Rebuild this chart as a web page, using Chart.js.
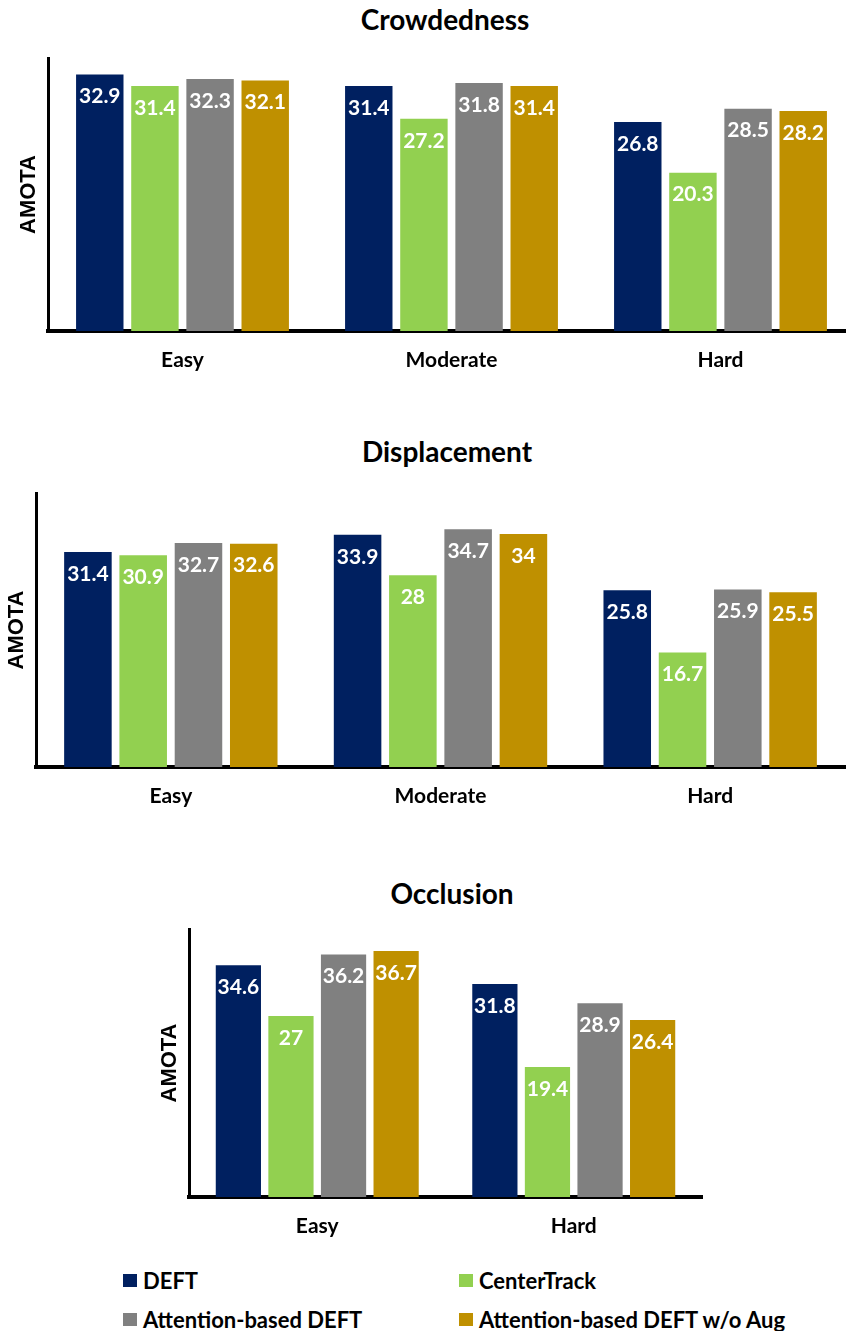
<!DOCTYPE html>
<html>
<head>
<meta charset="utf-8">
<script src="https://cdn.jsdelivr.net/npm/chart.js@4.4.0/dist/chart.umd.min.js"></script>
<style>
  html, body { margin: 0; padding: 0; background: #fff; overflow: hidden; }
  body { width: 846px; height: 1331px; position: relative; }
  canvas { position: absolute; left: 0; }
  .ttl { position: absolute; width: 400px; text-align: center; font: bold 28px Lato, sans-serif; line-height: 32px; color: #000; }
  .leg { position: absolute; height: 24px; display: flex; align-items: center; font: bold 22px Lato, sans-serif; color: #000; white-space: nowrap; }
  .leg span.sq { display: inline-block; width: 14px; height: 13px; margin-right: 6px; }
</style>
</head>
<body>
<div class="ttl" style="left:245px; top:3px;">Crowdedness</div>
<div class="ttl" style="left:247px; top:435px;">Displacement</div>
<div class="ttl" style="left:252px; top:877px;">Occlusion</div>
<canvas id="crowd" width="860" height="381" style="top:0px;"></canvas>
<canvas id="disp" width="860" height="377" style="top:440px;"></canvas>
<canvas id="occ" width="860" height="367" style="top:880px;"></canvas>
<div id="legend"></div>
<script>
var seriesNames = ['DEFT', 'CenterTrack', 'Attention-based DEFT', 'Attention-based DEFT w/o Aug'];
var seriesColors = ['#002060', '#92D050', '#808080', '#BF9000'];

// Crowdedness
var crowdLabels = ['Easy', 'Moderate', 'Hard'];
var crowdDEFT = [32.9, 31.4, 26.8];
var crowdCenter = [31.4, 27.2, 20.3];
var crowdAttn = [32.3, 31.8, 28.5];
var crowdAttnNoAug = [32.1, 31.4, 28.2];

// Displacement
var dispLabels = ['Easy', 'Moderate', 'Hard'];
var dispDEFT = [31.4, 33.9, 25.8];
var dispCenter = [30.9, 28, 16.7];
var dispAttn = [32.7, 34.7, 25.9];
var dispAttnNoAug = [32.6, 34, 25.5];

// Occlusion
var occLabels = ['Easy', 'Hard'];
var occDEFT = [34.6, 31.8];
var occCenter = [27, 19.4];
var occAttn = [36.2, 28.9];
var occAttnNoAug = [36.7, 26.4];

// white numbers inside the top of each bar
var valueLabels = {
    id: 'valueLabels',
    afterDatasetsDraw: function (chart) {
        var ctx = chart.ctx;
        ctx.save();
        ctx.font = 'bold 21px Lato';
        ctx.fillStyle = '#fff';
        ctx.textAlign = 'center';
        ctx.textBaseline = 'middle';
        chart.data.datasets.forEach(function (ds, i) {
            chart.getDatasetMeta(i).data.forEach(function (bar, j) {
                ctx.fillText(String(ds.data[j]), bar.x, bar.y + 22);
            });
        });
        ctx.restore();
    }
};

function makeChart(id, labels, series, yMax, pad) {
    var ctx = document.getElementById(id).getContext('2d');
    return new Chart(ctx, {
        type: 'bar',
        data: {
            labels: labels,
            datasets: series.map(function (d, i) {
                return {
                    label: seriesNames[i],
                    data: d,
                    backgroundColor: seriesColors[i],
                    borderWidth: 0,
                    categoryPercentage: 0.82,
                    barPercentage: 0.86
                };
            })
        },
        options: {
            responsive: false,
            animation: false,
            layout: { padding: { top: pad.top, left: pad.left, right: pad.right, bottom: 0 } },
            plugins: { legend: { display: false }, tooltip: { enabled: false }, title: { display: false } },
            scales: {
                x: {
                    grid: { display: false, drawTicks: false },
                    border: { display: true, color: '#000', width: 4 },
                    ticks: { color: '#000', font: { family: 'Lato', weight: 'bold', size: 21 }, padding: 17 },
                    afterFit: function (s) { s.height = 50; }
                },
                y: {
                    min: 0,
                    max: yMax,
                    grid: { display: false, drawTicks: false },
                    border: { display: true, color: '#000', width: 3 },
                    ticks: { display: false },
                    title: {
                        display: true,
                        text: 'AMOTA',
                        color: '#000',
                        font: { family: 'Liberation Sans', weight: 'bold', size: 22 },
                        padding: { top: 2, bottom: 0 }
                    },
                    afterFit: function (s) { s.width = 34; }
                }
            }
        },
        plugins: [valueLabels]
    });
}

makeChart('crowd', crowdLabels, [crowdDEFT, crowdCenter, crowdAttn, crowdAttnNoAug], 35, { top: 58, left: 14, right: 5 });
makeChart('disp', dispLabels, [dispDEFT, dispCenter, dispAttn, dispAttnNoAug], 40, { top: 53, left: 2, right: 15 });
makeChart('occ', occLabels, [occDEFT, occCenter, occAttn, occAttnNoAug], 40, { top: 49, left: 155, right: 158 });

// legend, two columns
var legPos = [[123, 1268], [459, 1268], [123, 1307], [459, 1307]];
var legend = document.getElementById('legend');
seriesNames.forEach(function (name, i) {
    var item = document.createElement('div');
    item.className = 'leg';
    item.style.left = legPos[i][0] + 'px';
    item.style.top = legPos[i][1] + 'px';
    item.innerHTML = '<span class="sq" style="background:' + seriesColors[i] + '"></span>' + name;
    legend.appendChild(item);
});
</script>
</body>
</html>
